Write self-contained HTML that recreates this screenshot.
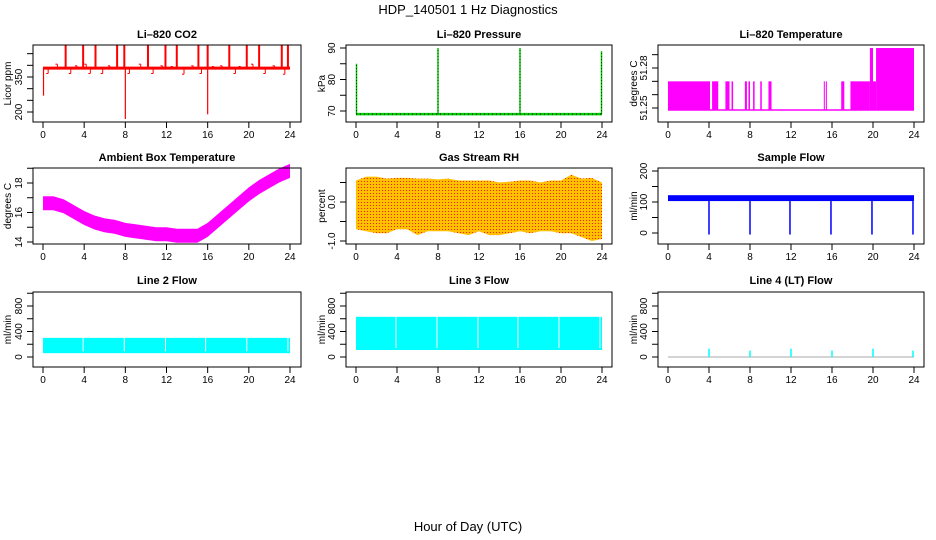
<!DOCTYPE html>
<html><head><meta charset="utf-8">
<style>
html,body{margin:0;padding:0;background:#fff;}
svg{display:block;font-family:"Liberation Sans",Arial,sans-serif;}
</style></head>
<body>
<svg id="chart" width="936" height="540" viewBox="0 0 936 540">
<defs>
<pattern id="rhpat" width="3" height="3" patternUnits="userSpaceOnUse">
<rect width="3" height="3" fill="#ffc000"/><rect x="1" y="1" width="1" height="1" fill="#ff2000"/>
</pattern>
</defs>
<text x="468" y="14" text-anchor="middle" font-size="13">HDP_140501  1 Hz Diagnostics</text>
<text x="468" y="531" text-anchor="middle" font-size="13">Hour of Day (UTC)</text>
<g id="plots"></g>
</svg>
<script>
// ---- data arrays ----
const xTicks = [0,4,8,12,16,20,24];
const co2Base = 388;
const co2SpikeHours = [2.2,3.9,5.1,7.2,7.9,10.2,11.9,13.0,15.1,16.0,18.1,19.8,21.0,23.2,23.8];
const co2SpikeVals = [485,485,485,485,485,485,485,485,485,485,485,485,485,485,485];
const co2SmallHours = [0.5,1.4,2.7,3.3,4.2,4.6,5.8,6.5,8.4,9.5,10.7,11.6,12.6,13.7,14.6,15.4,16.6,17.4,18.7,19.2,20.4,21.6,22.5,23.5];
const co2SmallVals = [365,405,365,398,405,365,365,398,365,405,365,398,395,362,398,365,395,398,365,395,405,365,398,362];
const co2DownHours = [0.05,8.0,16.0];
const co2DownVals = [270,170,190];
const presBase = 69;
const presSpikeHours = [0.05,8.0,16.0,23.95];
const presSpikeVals = [85,90,90,89];
const tempLow = 51.2485, tempMid = 51.27, tempHigh = 51.295;
const tempBlockStart = [0,4.3,5.6,6.2,7.5,7.85,8.3,9.0,9.8,15.2,15.4,16.9,17.8,19.7,20.0,20.3];
const tempBlockEnd =   [4.1,4.9,6.0,6.35,7.7,8.0,8.45,9.15,10.1,15.3,15.5,17.2,19.7,20.0,20.3,24.0];
const tempBlockTop =   [51.27,51.27,51.27,51.27,51.27,51.27,51.27,51.27,51.27,51.27,51.27,51.27,51.27,51.295,51.27,51.295];
const ambHours = [0,1,2,3,4,5,6,7,8,9,10,11,12,13,14,15,16,17,18,19,20,21,22,23,24];
const ambVals = [16.6,16.6,16.4,16.0,15.6,15.3,15.1,15.0,14.8,14.7,14.6,14.5,14.5,14.4,14.4,14.4,14.8,15.4,16.0,16.6,17.2,17.7,18.1,18.5,18.8];
const rhHours = [0,1,2,3,4,5,6,7,8,9,10,11,12,13,14,15,16,17,18,19,20,21,22,23,24];
const rhUpper = [0.55,0.65,0.65,0.6,0.62,0.62,0.6,0.6,0.58,0.6,0.55,0.55,0.55,0.55,0.5,0.52,0.55,0.55,0.5,0.55,0.55,0.7,0.6,0.62,0.5];
const rhLower = [-0.7,-0.75,-0.8,-0.8,-0.7,-0.7,-0.85,-0.75,-0.75,-0.75,-0.8,-0.85,-0.75,-0.85,-0.85,-0.8,-0.75,-0.8,-0.75,-0.75,-0.8,-0.8,-0.9,-1.0,-0.95];
const sfLow = 103, sfHigh = 122;
const sfDipHours = [4.0,8.0,11.9,15.9,19.9,23.9];
const sfDipVals = [-5,-5,-5,-5,-5,-5];
const l2Low = 60, l2High = 300;
const l2GapHours = [3.9,7.9,11.9,15.8,19.8,23.8];
const l3Low = 110, l3High = 630;
const l3GapHours = [3.9,7.9,11.9,15.8,19.8,23.8];
const l4SpikeHours = [4.0,8.0,12.0,16.0,20.0,23.9];
const l4SpikeVals = [130,100,130,100,130,100];

// ---- layout ----
const NS='http://www.w3.org/2000/svg';
const G=document.getElementById('plots');
function el(tag,attrs,parent){const e=document.createElementNS(NS,tag);for(const k in attrs)e.setAttribute(k,attrs[k]);(parent||G).appendChild(e);return e;}
const cols=[{l:33,r:301,x0:43,x24:290,ylab:11,tl:22},{l:346,r:612,x0:356,x24:602,ylab:325,tl:335},{l:658,r:924,x0:668,x24:914,ylab:637,tl:647}];
const rows=[{t:45,b:122,title:38},{t:168,b:244,title:161},{t:292,b:367,title:284}];
function panel(ci,ri,name,title,ylabel,v0,p0,v1,p1,ticks,labels){
  const c=cols[ci],r=rows[ri];
  const g=el('g',{});
  
  
  const X=h=>c.x0+(c.x24-c.x0)*h/24;
  const Y=v=>p0+(v-v0)*(p1-p0)/(v1-v0);
  const t=el('text',{x:(c.l+c.r)/2,y:r.title,'text-anchor':'middle','font-size':11,'font-weight':'bold'},g);t.textContent=title;
  
  
  const yl=el('text',{x:c.ylab,y:(r.t+r.b)/2,'text-anchor':'middle','font-size':10,transform:`rotate(-90 ${c.ylab} ${(r.t+r.b)/2})`},g);yl.textContent=ylabel;
  
  
  const mg=el('g',{},g);
  xTicks.forEach(h=>{el('line',{x1:X(h),x2:X(h),y1:r.b,y2:r.b+6,stroke:'#000'},g);
    const tx=el('text',{x:X(h),y:r.b+16,'text-anchor':'middle','font-size':10},g);tx.textContent=h;
    
    });
  ticks.forEach(v=>{const y=Y(v);if(y<r.t-1||y>r.b+1)return;el('line',{x1:c.l-6,x2:c.l,y1:y,y2:y,stroke:'#000'},g);});
  labels.forEach(v=>{const y=Y(v);const tx=el('text',{x:c.tl,y:y,'text-anchor':'middle','font-size':10,transform:`rotate(-90 ${c.tl} ${y})`},g);tx.textContent=fmt(v);
    
    });
  el('rect',{x:c.l,y:r.t,width:c.r-c.l,height:r.b-r.t,fill:'none',stroke:'#000'},g);
  return {X,Y,g:mg,c,r};
}
let fmt=v=>String(v);
function range(a,b,s){const o=[];for(let v=a;v<=b+1e-9;v+=s)o.push(+v.toFixed(4));return o;}
function line(p,x1,y1,x2,y2,col,w){return el('line',{x1,y1,x2,y2,stroke:col,'stroke-width':w||1},p.g);}
function rectV(p,h1,h2,v1,v2,col){const a=p.X(h1),b=p.X(h2),y1=p.Y(v1),y2=p.Y(v2);return el('rect',{x:Math.min(a,b),y:Math.min(y1,y2),width:Math.abs(b-a)||1,height:Math.abs(y2-y1)||1,fill:col},p.g);}

// CO2
let p=panel(0,0,'panel-co2','Li\u2013820 CO2','Licor ppm',200,112,350,77,range(200,450,50),[200,350]);
line(p,p.X(0),p.Y(co2Base),p.X(24),p.Y(co2Base),'#f00',3);
co2SpikeHours.forEach((h,i)=>{const s=line(p,p.X(h),p.Y(co2Base),p.X(h),p.Y(co2SpikeVals[i]),'#f00',2);});
co2SmallHours.forEach((h,i)=>{line(p,p.X(h),p.Y(co2Base),p.X(h),p.Y(co2SmallVals[i]),'#f00',1);line(p,p.X(h)-2,p.Y(co2SmallVals[i]),p.X(h),p.Y(co2SmallVals[i]),'#f00',1);});
co2DownHours.forEach((h,i)=>{line(p,p.X(h),p.Y(co2Base),p.X(h),p.Y(co2DownVals[i]),'#f00',1.2);});

// Pressure
p=panel(1,0,'panel-pressure','Li\u2013820 Pressure','kPa',70,111,90,48,range(65,90,5),[70,80,90]);
line(p,p.X(0),p.Y(presBase),p.X(24),p.Y(presBase),'#0c0',2.5);
line(p,p.X(0),p.Y(presBase),p.X(24),p.Y(presBase),'#000',1).setAttribute('stroke-dasharray','1 3');
presSpikeHours.forEach((h,i)=>{line(p,p.X(h),p.Y(presBase),p.X(h),p.Y(presSpikeVals[i]),'#0c0',1.5);line(p,p.X(h),p.Y(presBase),p.X(h),p.Y(presSpikeVals[i]),'#000',0.8).setAttribute('stroke-dasharray','1 2');});

// Li-820 temperature
fmt=v=>v.toFixed(2);
p=panel(2,0,'panel-licor-temp','Li\u2013820 Temperature','degrees C',51.25,108,51.28,68,range(51.25,51.29,0.01),[51.25,51.28]);
line(p,p.X(0),p.Y(tempLow),p.X(24),p.Y(tempLow),'#f0f',1.5);
tempBlockStart.forEach((s,i)=>{const r=rectV(p,s,tempBlockEnd[i],tempLow,tempBlockTop[i],'#f0f');});

// Ambient
fmt=v=>String(v);
p=panel(0,1,'panel-ambient-temp','Ambient Box Temperature','degrees C',14,242,18,183,range(14,19,1),[14,16,18]);
{let up=ambHours.map((h,i)=>p.X(h)+','+p.Y(ambVals[i]+0.5)).join(' ');
 let lo=ambHours.slice().reverse().map((h,k)=>{const i=ambHours.length-1-k;return p.X(h)+','+p.Y(ambVals[i]-0.45);}).join(' ');
 el('polygon',{points:up+' '+lo,fill:'#f0f'},p.g);}

// Gas RH
fmt=v=>v.toFixed(1);
p=panel(1,1,'panel-gas-rh','Gas Stream RH','percent',0,202,-1,241,range(-1,0.5,0.5),[-1,0]);
{let up=rhHours.map((h,i)=>p.X(h)+','+p.Y(rhUpper[i])).join(' ');
 let lo=rhHours.slice().reverse().map((h,k)=>{const i=rhHours.length-1-k;return p.X(h)+','+p.Y(rhLower[i]);}).join(' ');
 el('polygon',{points:up+' '+lo,fill:'url(#rhpat)'},p.g);}

// Sample flow
fmt=v=>String(v);
p=panel(2,1,'panel-sample-flow','Sample Flow','ml/min',0,233,200,171,range(0,200,50),[0,100,200]);
rectV(p,0,24,sfLow,sfHigh,'#00f');
sfDipHours.forEach((h,i)=>{line(p,p.X(h),p.Y(sfLow),p.X(h),p.Y(sfDipVals[i]),'#00f',1.5);});

// Line 2
p=panel(0,2,'panel-line2-flow','Line 2 Flow','ml/min',0,357,800,306,range(0,1000,200),[0,400,800]);
rectV(p,0,24,l2Low,l2High,'#0ff');
l2GapHours.forEach(h=>line(p,p.X(h),p.Y(l2Low+30),p.X(h),p.Y(l2High),'#fff',1));
// Line 3
p=panel(1,2,'panel-line3-flow','Line 3 Flow','ml/min',0,357,800,306,range(0,1000,200),[0,400,800]);
rectV(p,0,24,l3Low,l3High,'#0ff');
l3GapHours.forEach(h=>line(p,p.X(h),p.Y(l3Low+30),p.X(h),p.Y(l3High),'#fff',1));
// Line 4
p=panel(2,2,'panel-line4-flow','Line 4 (LT) Flow','ml/min',0,357,800,306,range(0,1000,200),[0,400,800]);
line(p,p.X(0),p.Y(0),p.X(24),p.Y(0),'#aaa',1);
l4SpikeHours.forEach((h,i)=>line(p,p.X(h),p.Y(0),p.X(h),p.Y(l4SpikeVals[i]),'#0ff',1.5));
</script>
</body></html>
